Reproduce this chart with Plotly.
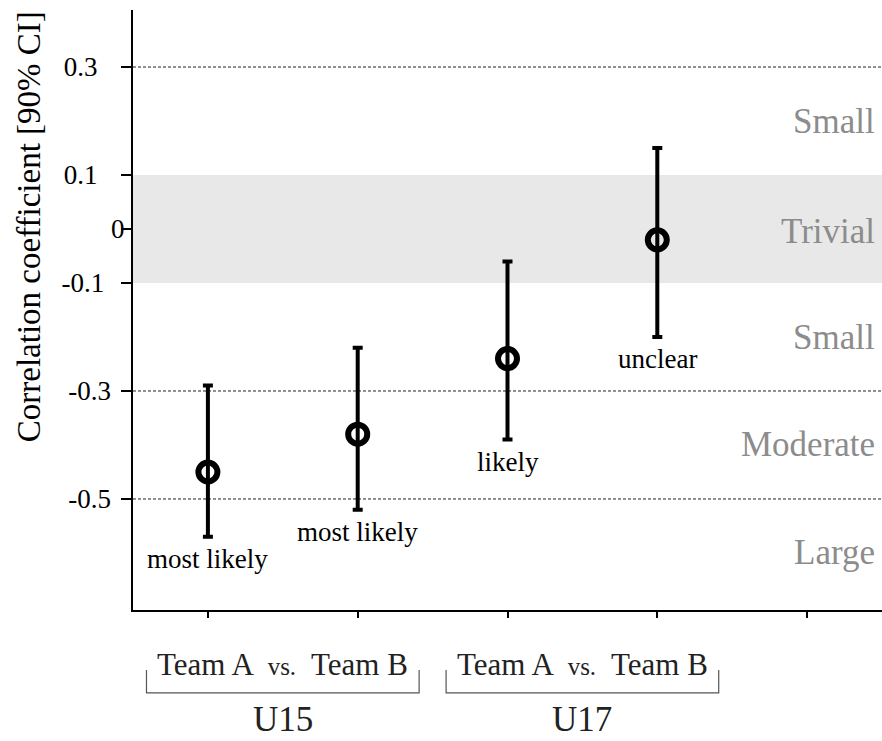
import plotly.graph_objects as go

# ---- data ----
categories = ["U15 Team A", "U15 Team B", "U17 Team A", "U17 Team B"]
mean_r = [-0.45, -0.38, -0.24, -0.02]
ci_upper = [-0.29, -0.22, -0.06, 0.15]
ci_lower = [-0.57, -0.52, -0.39, -0.20]
inference = ["most likely", "most likely", "likely", "unclear"]

ytick_vals = [0.3, 0.1, 0, -0.1, -0.3, -0.5]
ytick_text = ["0.3", "0.1", "0", "-0.1", "-0.3", "-0.5"]
ytick_pad = [4, 4, 0, 3, 2, 2]  # trailing spaces, as in the original layout

threshold_lines = [0.3, -0.3, -0.5]
trivial_band = [-0.1, 0.1]
zone_names = ["Small", "Trivial", "Small", "Moderate", "Large"]
zone_centers = [0.2, -0.005, -0.2, -0.4, -0.6]

groups = ["U15", "U17"]
group_centers = [1.5, 3.5]
comparison_label = "Team A  <span style='font-size:25px'>vs.</span>  Team B"

x_pos = list(range(1, len(categories) + 1))

FONT = "Liberation Serif, Times New Roman, serif"

fig = go.Figure()

fig.add_trace(go.Scatter(
    x=x_pos, y=mean_r, mode="markers",
    marker=dict(symbol="circle-open", size=19, color="black",
                line=dict(width=6, color="black")),
    error_y=dict(type="data", symmetric=False,
                 array=[u - m for u, m in zip(ci_upper, mean_r)],
                 arrayminus=[m - l for m, l in zip(mean_r, ci_lower)],
                 color="black", thickness=4, width=5),
    showlegend=False, hoverinfo="skip",
))

shapes = []
shapes.append(dict(type="rect", xref="paper", yref="y", x0=0, x1=1,
                   y0=trivial_band[0], y1=trivial_band[1],
                   fillcolor="#e8e8e8", line=dict(width=0), layer="below"))
for t in threshold_lines:
    shapes.append(dict(type="line", xref="paper", yref="y", x0=0, x1=1, y0=t, y1=t,
                       line=dict(color="#222222", width=1, dash="3px,2px"), layer="below"))
for c in group_centers:
    x0, x1 = c - 0.91, c + 0.91
    shapes.append(dict(type="path", xref="x", yref="paper",
                       path=f"M {x0},-0.1 L {x0},-0.138 L {x1},-0.138 L {x1},-0.1",
                       line=dict(color="#555555", width=1.2)))

annotations = []
for xv, lo, txt in zip(x_pos, ci_lower, inference):
    annotations.append(dict(x=xv, y=lo, xref="x", yref="y", text=txt, showarrow=False,
                            yanchor="top", yshift=-5,
                            font=dict(family=FONT, size=27, color="black")))
for name, yc in zip(zone_names, zone_centers):
    annotations.append(dict(x=1, y=yc, xref="paper", yref="y", text=name, showarrow=False,
                            xanchor="right", yanchor="middle", xshift=-5,
                            font=dict(family=FONT, size=35, color="#8c8c8c")))
for g, c in zip(groups, group_centers):
    annotations.append(dict(x=c, y=-0.09, xref="x", yref="paper", text=comparison_label,
                            showarrow=False, yanchor="middle",
                            font=dict(family=FONT, size=31, color="#222222")))
    annotations.append(dict(x=c, y=-0.2183, xref="x", yref="paper", text=g,
                            showarrow=False, yanchor="bottom",
                            font=dict(family=FONT, size=35, color="#222222")))
annotations.append(dict(x=-0.139, y=0.005, xref="paper", yref="y",
                        text="Correlation coefficient [90% CI]", textangle=-90,
                        showarrow=False, xanchor="center", yanchor="middle",
                        font=dict(family=FONT, size=33, color="black")))

fig.update_layout(
    width=882, height=741,
    margin=dict(l=133, r=0, t=10, b=131),
    plot_bgcolor="white", paper_bgcolor="white",
    shapes=shapes, annotations=annotations,
    font=dict(family=FONT, color="black"),
    xaxis=dict(range=[0.5, 5.5], tickvals=[1, 2, 3, 4, 5], showticklabels=False,
               ticks="outside", ticklen=6, tickwidth=1.5, tickcolor="black",
               showline=True, linecolor="black", linewidth=2,
               showgrid=False, zeroline=False),
    yaxis=dict(range=[-0.7056, 0.4056], tickvals=ytick_vals,
               ticktext=[t + "\u00a0" * p for t, p in zip(ytick_text, ytick_pad)],
               ticks="outside", ticklen=10, tickwidth=1.5, tickcolor="black",
               tickfont=dict(family=FONT, size=27, color="black"),
               showline=True, linecolor="black", linewidth=2,
               showgrid=False, zeroline=False),
)
try:
    fig.update_yaxes(ticklabelstandoff=-9)
except ValueError:
    pass

fig.write_html("out.html", config={"displayModeBar": False},
               post_script="document.body.style.margin='0px';document.body.style.overflow='hidden';")
